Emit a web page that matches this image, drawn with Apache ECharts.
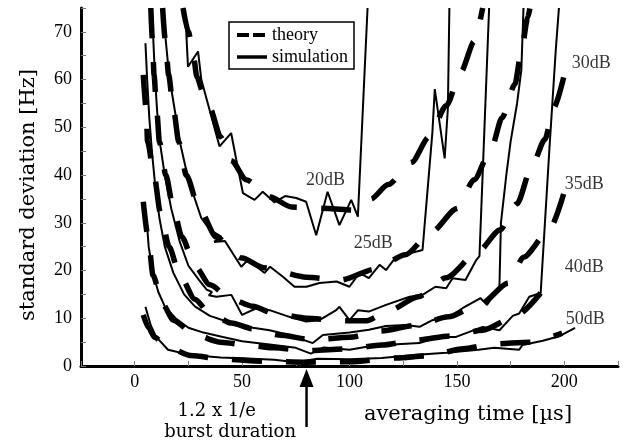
<!DOCTYPE html>
<html><head><meta charset="utf-8">
<script src="https://cdn.jsdelivr.net/npm/echarts@6/dist/echarts.min.js"></script>
<style>html,body{margin:0;padding:0;background:#fff}#c{width:632px;height:444px}</style>
</head><body><div id="c"></div>
<script>
// ---- tick labels ----
const xTickLabels = [0, 50, 100, 150, 200];
const yTickLabels = [0, 10, 20, 30, 40, 50, 60, 70];

// ---- theory curves [time µs, std dev Hz] ----
const theory20 = [[22.5,75],[25,70],[27,66],[29,60.5],[32,57],[35,54],[40,48],[45,43],[52,39],[63,35.4],[73,33.3],[90,33],[101,32.7],[110,35],[118,38],[129,42.7],[137,48],[145,54.5],[152,61.7],[158,68],[162,75]];
const theory25 = [[13,75],[14.3,68],[15.8,61],[18,54],[20.5,47],[24,40],[30,33],[38,27],[50,22.6],[60,20.6],[80,18.6],[96,18],[112,20.3],[126,23.3],[138,28],[150,33],[158,39],[166,45.5],[171,52],[177,59],[180,66],[183,73],[184,75]];
const theory30 = [[7.5,75],[8.3,68],[9,61],[10.2,54],[11.5,47],[14.5,40],[18,33],[22,27],[28,21],[35,17],[45,14],[55,12.5],[65,11],[80,10],[95,9.5],[108,9.5],[118,11.5],[132,14.5],[145,18.5],[160,24],[170,28.5],[178,34],[185,42],[191,47.5],[195,54],[200,61]];
const theory35 = [[4,61],[5.3,54],[6,47],[9,40],[12,32],[16,25],[21,19],[28,14],[35,11],[45,9],[55,7.8],[67,6.5],[83,5.5],[100,6],[114,7.3],[131,8.5],[146,10.3],[161,13],[174,17.4],[181,22.8],[193,28.5],[200,36.5]];
const theory40 = [[4,34.4],[6.4,26.5],[8.5,19],[13,13],[18,9.6],[28,6.5],[40,5],[55,4.2],[65,3.8],[80,3.2],[100,3.6],[115,4.4],[131,5.4],[147,6.3],[162,7.5],[177,10.3],[189,15.3]];
const theory50 = [[4,10.7],[6.5,8],[9.3,6],[15,4],[26,2.2],[42,1.4],[60,1],[80,0.8],[100,0.9],[122,1.7],[136,2.1],[153,3.6],[167,4.6],[184,5],[199,6.9]];

// ---- simulation curves ----
const sim20 = [[22.5,75],[24,70],[24.8,62.7],[29.5,65.9],[31,60],[34.9,53.6],[39.5,46],[44.9,48.8],[47.3,43.2],[50.4,36.2],[55.8,34.8],[59.6,36.5],[65,34.3],[70,35.6],[75.2,35.2],[79.8,34.4],[84.5,27.4],[89.8,36.5],[95.3,29.5],[100.8,34.8],[103.9,31.3],[108.4,75]];
const sim25 = [[13,75],[14.5,68],[16,61],[18.5,54],[21,47],[24,41],[28,35],[31,31],[35,28.5],[40.3,27.1],[37,26],[42,26.2],[49.6,20.8],[52.7,22.2],[60.5,19.5],[63,20.8],[69,18.7],[74.4,16.6],[80,16.6],[86,17.4],[94,17.7],[100,16.6],[104.6,19.5],[109,18.4],[114,21.2],[117,20.1],[121.7,22.9],[134,24.3],[138.6,49],[139.7,58],[144.3,43.5],[145.8,54],[146.5,75]];
const sim30 = [[8,75],[8.7,68],[9.5,60],[10.5,53],[12,46],[14,40],[17,33],[21,26],[25,21],[30,18],[33.5,16],[36,15.5],[34.5,14.8],[38,14.5],[45,14.9],[50,10.7],[56.6,12.1],[62.8,11.7],[72,10.3],[79.8,9.3],[86,9.6],[93.8,11.7],[95.3,12.4],[100,9.6],[104,11.7],[109,11.4],[117,12.8],[128,14.5],[134,14.9],[140,16.6],[145,16.3],[148,18.4],[154,18],[159,22.2],[160.5,23],[165,75]];
const sim35 = [[5,67.6],[5.8,60],[6.8,52],[8,45],[9.5,38],[11.5,31],[14,25],[18,19.5],[23,15],[28,12.5],[35,10.5],[45,9],[55,8],[62.8,7.5],[72,6.5],[82.9,4.8],[87.6,6.5],[100,7],[109,7.6],[117,8.4],[126,8.6],[132.6,8.2],[138.6,9.6],[148,10.7],[152.6,12.1],[161,14.2],[164,12.8],[169.8,16.6],[170.5,30],[173,40],[175,47],[178,55],[180,62],[181,75]];
const sim40 = [[5.5,31],[6.5,25],[8.5,19.5],[11,15.5],[14,12.5],[19,10],[25,8],[32,7],[40,6.2],[50,5.2],[62.8,4.5],[75,3.8],[82,2.6],[88,3.9],[100,3.4],[110,4.2],[120,4.5],[132.6,4.8],[141.9,6.1],[149.6,6.1],[162,8.2],[169.8,7.5],[176,10.5],[179,11],[183.7,14.5],[189,15.3],[193,45],[196,66],[197.5,75]];
const sim50 = [[5,12.4],[7.5,8.5],[10,6.1],[15.5,3.4],[26,2.3],[40,1.8],[55,1.5],[65,1.3],[75,0.8],[85,1.5],[100,1.4],[115,1.7],[130,2.3],[145,2.8],[160,3.4],[167.4,3.8],[179,3.4],[180.5,4.4],[190,5.3],[198,6.3],[205,8]];

// ---- curve labels ----
const dbLabelText = ['20dB','25dB','30dB','35dB','40dB','50dB'];
const dbLabelPos = [[88.8,39],[111,25.7],[212.6,63.4],[209.3,38],[209.3,20.6],[209.8,9.8]];
const burstDuration = 80;

const serif = '"Liberation Serif","Times New Roman",serif';
const wide = '"DejaVu Serif",serif';

const theoryStyle = {color:'#000', width:5.5, type:[30,24], cap:'butt'};
const simStyle = {color:'#000', width:2};

function theorySeries(d){return {type:'line',name:'theory',data:d,symbol:'none',smooth:0.25,smoothMonotone:'x',itemStyle:{color:'#000'},lineStyle:theoryStyle,silent:true,z:2};}
function simSeries(d){return {type:'line',name:'simulation',data:d,symbol:'none',itemStyle:{color:'#000'},lineStyle:simStyle,silent:true,z:3};}

const chart = echarts.init(document.getElementById('c'), null, {renderer:'canvas'});
chart.setOption({
  animation:false,
  backgroundColor:'#fff',
  grid:{left:81, right:14, top:8, bottom:78, containLabel:false},
  legend:{
    data:[{name:'theory', lineStyle:{type:[12,4], width:4, color:'#000'}},{name:'simulation', lineStyle:{width:3.5, color:'#000'}}],
    itemStyle:{color:'rgba(0,0,0,0)', borderWidth:0, opacity:0},
    orient:'vertical', left:229, top:22, itemWidth:30, itemHeight:14, itemGap:4,
    padding:[4,6,3,6], borderColor:'#000', borderWidth:1.5, selectedMode:false,
    textStyle:{fontFamily:serif, fontSize:18, color:'#000'}
  },
  xAxis:{
    type:'value', min:-25, max:225, interval:25,
    axisLine:{show:true, onZero:false, lineStyle:{color:'#000', width:3}},
    axisTick:{show:true, inside:true, length:5, lineStyle:{color:'#777', width:1}},
    axisLabel:{formatter:v=>xTickLabels.includes(v)?String(v):'', fontFamily:serif, fontSize:18, color:'#000', margin:7},
    splitLine:{show:false},
    name:'averaging time [µs]', nameLocation:'middle', nameGap:38,
    nameTextStyle:{fontFamily:wide, fontSize:21, color:'#000', padding:[0,0,0,237]}
  },
  yAxis:{
    type:'value', min:0, max:75, interval:5,
    axisLine:{show:true, onZero:false, lineStyle:{color:'#000', width:3}},
    axisTick:{show:true, inside:true, length:5, lineStyle:{color:'#777', width:1}},
    axisLabel:{formatter:v=>yTickLabels.includes(v)?String(v):'', fontFamily:serif, fontSize:18, color:'#000', margin:9},
    splitLine:{show:false},
    name:'standard deviation [Hz]', nameLocation:'middle', nameRotate:90, nameGap:42,
    nameTextStyle:{fontFamily:wide, fontSize:21, color:'#000', padding:[0,16,0,0]}
  },
  series:[
    theorySeries(theory20),theorySeries(theory25),theorySeries(theory30),
    theorySeries(theory35),theorySeries(theory40),theorySeries(theory50),
    simSeries(sim20),simSeries(sim25),simSeries(sim30),
    simSeries(sim35),simSeries(sim40),simSeries(sim50),
    {type:'scatter', name:'labels', symbolSize:1, itemStyle:{color:'rgba(0,0,0,0)'}, silent:true, z:5,
     data:dbLabelPos.map((p,i)=>({value:p, name:dbLabelText[i]})),
     label:{show:true, position:'inside', formatter:'{b}', fontFamily:serif, fontSize:18, color:'#000'}}
  ]
});

const ax = chart.convertToPixel({xAxisIndex:0}, burstDuration);
const axisY = chart.convertToPixel({yAxisIndex:0}, 0);
chart.setOption({graphic:[
  {type:'line', silent:true, shape:{x1:ax, y1:axisY+18, x2:ax, y2:axisY+61}, style:{stroke:'#000', lineWidth:2.5}},
  {type:'polygon', silent:true, shape:{points:[[ax,axisY+3],[ax-7,axisY+21],[ax+7,axisY+21]]}, style:{fill:'#000'}},
  {type:'text', silent:true, x:256, y:411, style:{text:'1.2 x 1/e', font:'18px '+wide, fill:'#000', align:'right', verticalAlign:'middle', textAlign:'right', textVerticalAlign:'middle'}},
  {type:'text', silent:true, x:296, y:432, style:{text:'burst duration', font:'18px '+wide, fill:'#000', align:'right', verticalAlign:'middle', textAlign:'right', textVerticalAlign:'middle'}}
]});
</script></body></html>
